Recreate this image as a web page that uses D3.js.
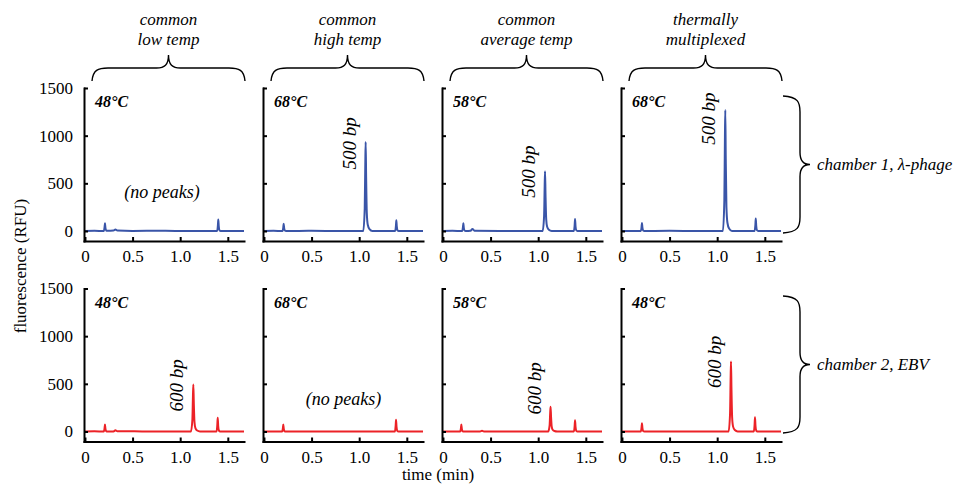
<!DOCTYPE html>
<html><head><meta charset="utf-8">
<script src="https://cdn.jsdelivr.net/npm/d3@7"></script>
<style>
body{margin:0;background:#fff}
svg{display:block}
text{font-family:"Liberation Serif","Times New Roman",serif;fill:#000}
</style>
</head><body><svg id="c" width="957" height="494"></svg>
<script>
// ---------- data ----------
const columnHeaders = [["common","low temp"],["common","high temp"],["common","average temp"],["thermally","multiplexed"]];
const rowLabels = ["chamber 1, λ-phage","chamber 2, EBV"];
const rowColors = ["#3a55a8","#ec2227"];
const tempLabels = [["48°C","68°C","58°C","68°C"],["48°C","68°C","58°C","48°C"]];
const xTickValues = [0,0.5,1.0,1.5];
const xTickLabels = ["0","0.5","1.0","1.5"];
const yTickValues = [0,500,1000,1500];
const yTickLabels = ["0","500","1000","1500"];
const xDomain = [-0.01,1.67];
const yDomain = [-105,1500];
const xTitle = "time (min)";
const yTitle = "fluorescence (RFU)";

// traces: [time (min), fluorescence (RFU)]
const ch1LowTemp = [[0,0],[0.1,2],[0.198,0],[0.206,40],[0.21,80],[0.215,32],[0.223,5],[0.235,2],[0.30,4],[0.32,15],[0.34,4],[0.5,1],[0.8,2],[1.1,0],[1.388,1],[1.396,60],[1.40,120],[1.405,48],[1.413,7],[1.425,0],[1.55,1],[1.67,0]];
const ch1HighTemp = [[0,0],[0.1,2],[0.195,0],[0.203,38],[0.207,77],[0.212,31],[0.220,5],[0.232,0],[0.5,2],[0.8,0],[1.043,0],[1.058,234],[1.064,700],[1.068,934],[1.073,560],[1.080,187],[1.090,65],[1.108,19],[1.138,0],[1.378,0],[1.386,56],[1.39,112],[1.395,45],[1.403,7],[1.415,0],[1.67,0]];
const ch1AvgTemp = [[0,0],[0.1,2],[0.202,0],[0.210,40],[0.214,80],[0.219,32],[0.227,5],[0.239,0],[0.29,2],[0.31,22],[0.33,3],[0.6,1],[0.9,0],[1.047,0],[1.062,157],[1.068,470],[1.072,626],[1.077,376],[1.084,125],[1.094,44],[1.112,13],[1.142,0],[1.375,0],[1.383,63],[1.387,126],[1.392,50],[1.400,8],[1.412,0],[1.67,0]];
const ch1Multiplexed = [[0,0],[0.1,1],[0.198,0],[0.206,42],[0.21,85],[0.215,34],[0.223,5],[0.235,0],[0.5,2],[0.8,0],[1.06,0],[1.075,317],[1.081,952],[1.085,1269],[1.09,761],[1.097,254],[1.107,89],[1.125,25],[1.155,0],[1.393,0],[1.401,65],[1.405,130],[1.41,52],[1.418,8],[1.43,0],[1.67,0]];
const ch2LowTemp = [[0,0],[0.1,2],[0.198,0],[0.206,36],[0.21,73],[0.215,29],[0.223,4],[0.235,0],[0.30,1],[0.32,12],[0.34,2],[0.6,1],[0.9,0],[1.113,0],[1.128,123],[1.134,370],[1.138,493],[1.143,296],[1.150,99],[1.160,35],[1.178,10],[1.208,0],[1.382,0],[1.39,72],[1.394,144],[1.399,58],[1.407,9],[1.419,0],[1.67,0]];
const ch2HighTemp = [[0,0],[0.1,1],[0.191,0],[0.199,36],[0.203,73],[0.208,29],[0.216,4],[0.228,0],[0.5,1],[0.9,0],[1.375,0],[1.383,62],[1.387,123],[1.392,49],[1.40,7],[1.412,0],[1.67,0]];
const ch2AvgTemp = [[0,0],[0.1,1],[0.181,0],[0.189,36],[0.193,73],[0.198,29],[0.206,4],[0.218,0],[0.39,1],[0.41,8],[0.43,1],[0.8,0],[1.105,0],[1.12,65],[1.126,194],[1.13,259],[1.135,155],[1.142,52],[1.152,18],[1.17,5],[1.2,0],[1.375,0],[1.383,60],[1.387,119],[1.392,48],[1.40,7],[1.412,0],[1.67,0]];
const ch2Multiplexed = [[0,0],[0.1,1],[0.198,0],[0.206,43],[0.21,87],[0.215,35],[0.223,5],[0.235,0],[0.5,1],[0.9,0],[1.12,0],[1.135,184],[1.141,551],[1.145,734],[1.15,440],[1.157,147],[1.167,51],[1.185,15],[1.215,0],[1.385,0],[1.393,75],[1.397,150],[1.402,60],[1.41,9],[1.422,0],[1.67,0]];
const traces = [[ch1LowTemp,ch1HighTemp,ch1AvgTemp,ch1Multiplexed],[ch2LowTemp,ch2HighTemp,ch2AvgTemp,ch2Multiplexed]];

const peakLabelText = [[null,"500 bp","500 bp","500 bp"],["600 bp",null,"600 bp","600 bp"]];
const peakLabelTime = [[null,1.068,1.072,1.085],[1.138,null,1.13,1.145]];
const peakLabelRFU = [[null,918,624,1180],[483,null,451,729]];
const noPeakText = "(no peaks)";
const noPeakTime = [[0.81,null,null,null],[null,0.835,null,null]];
const noPeakRFU = [[350,null,null,null],[null,283,null,null]];

// ---------- layout ----------
const svg = d3.select("#c");
const panelW = 160, panelH = 153;
const colLeft = d3.scaleLinear().domain([0,3]).range([84,621]);
const rowTop = [88, 288.5];
const x = d3.scaleLinear().domain(xDomain).range([0,panelW]);
const y = d3.scaleLinear().domain(yDomain).range([panelH,0]);
const line = d3.line().x(d=>x(d[0])).y(d=>y(d[1])).curve(d3.curveMonotoneX);

for (let r=0;r<2;r++){
  for (let c=0;c<4;c++){
    const g = svg.append("g").attr("transform",`translate(${colLeft(c)},${rowTop[r]})`);
    g.append("path").datum(traces[r][c]).attr("d",line)
      .attr("fill","none").attr("stroke",rowColors[r]).attr("stroke-width",2).attr("stroke-linejoin","round");

    const ya = g.append("g").call(d3.axisLeft(y).tickValues(yTickValues)
        .tickFormat((d,i)=> c===0 ? yTickLabels[i] : "")
        .tickSizeInner(-4).tickSizeOuter(0).tickPadding(11));
    const xa = g.append("g").attr("transform",`translate(0,${panelH})`)
      .call(d3.axisBottom(x).tickValues(xTickValues).tickFormat((d,i)=>xTickLabels[i])
        .tickSizeInner(-4).tickSizeOuter(0).tickPadding(9));
    [ya,xa].forEach(a=>{
      a.attr("font-size",17);
      a.select(".domain").attr("stroke","#000").attr("stroke-width",2).attr("stroke-linecap","square");
      a.selectAll(".tick line").attr("stroke","#000").attr("stroke-width",2);
    });

    g.append("text").attr("x",11).attr("y",19).attr("font-size",16)
      .attr("font-weight","bold").attr("font-style","italic").text(tempLabels[r][c]);

    if (peakLabelText[r][c]){
      const px = x(peakLabelTime[r][c]) - 10, py = y(peakLabelRFU[r][c]);
      g.append("text").attr("transform",`translate(${px},${py}) rotate(-90)`)
        .attr("text-anchor","middle").attr("font-size",19).attr("font-style","italic")
        .text(peakLabelText[r][c]);
    }
    if (noPeakTime[r][c]!==null){
      g.append("text").attr("x",x(noPeakTime[r][c])).attr("y",y(noPeakRFU[r][c]))
        .attr("text-anchor","middle").attr("font-size",18).attr("font-style","italic").text(noPeakText);
    }
  }
}

// column headers + braces
for (let c=0;c<4;c++){
  const cx = colLeft(c)+84.5;
  columnHeaders[c].forEach((t,i)=>{
    svg.append("text").attr("x",cx).attr("y",25+i*20).attr("text-anchor","middle")
      .attr("font-size",17).attr("font-style","italic").text(t);
  });
  const x1 = colLeft(c)+8, x2 = colLeft(c)+161, xm=(x1+x2)/2, yb=81, ym=68, yt=55;
  svg.append("path").attr("fill","none").attr("stroke","#000").attr("stroke-width",1.4)
    .attr("d",`M${x1},${yb} C${x1+1},${ym+2} ${x1+6},${ym} ${x1+16},${ym} L${xm-12},${ym} C${xm-4},${ym} ${xm},${ym-3} ${xm},${yt} C${xm},${ym-3} ${xm+4},${ym} ${xm+12},${ym} L${x2-16},${ym} C${x2-6},${ym} ${x2-1},${ym+2} ${x2},${yb}`);
}

// row braces + labels
const rowBraceTop = [96, 296];
for (let r=0;r<2;r++){
  const y1 = rowBraceTop[r], y2 = y1+137, ymid=(y1+y2)/2, xe=783, xv=800, xt=810;
  svg.append("path").attr("fill","none").attr("stroke","#000").attr("stroke-width",1.4)
    .attr("d",`M${xe},${y1} C${xv-2},${y1+1} ${xv},${y1+6} ${xv},${y1+16} L${xv},${ymid-12} C${xv},${ymid-4} ${xv+3},${ymid} ${xt},${ymid} C${xv+3},${ymid} ${xv},${ymid+4} ${xv},${ymid+12} L${xv},${y2-16} C${xv},${y2-6} ${xv-2},${y2-1} ${xe},${y2}`);
  svg.append("text").attr("x",817).attr("y",ymid+5).attr("font-size",17)
    .attr("font-style","italic").text(rowLabels[r]);
}

// axis titles
svg.append("text").attr("transform","translate(26,266) rotate(-90)").attr("text-anchor","middle")
  .attr("font-size",17).text(yTitle);
svg.append("text").attr("x",438).attr("y",480).attr("text-anchor","middle")
  .attr("font-size",17).text(xTitle);
</script></body></html>
